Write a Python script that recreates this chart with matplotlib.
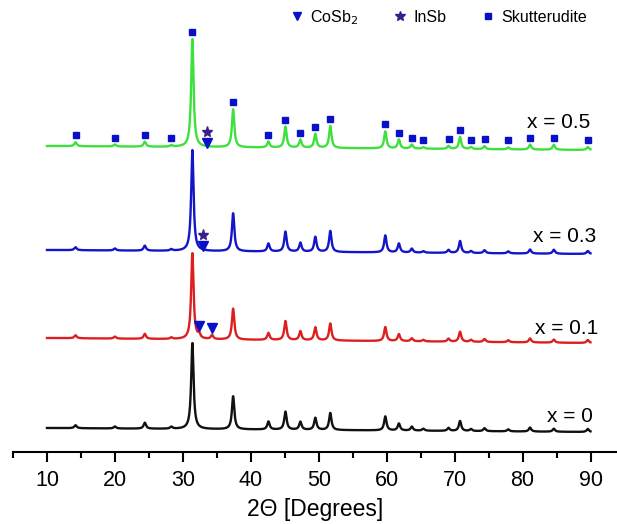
import matplotlib.pyplot as plt
import numpy as np
from matplotlib.lines import Line2D

plt.rcParams['font.family'] = ['Liberation Sans', 'DejaVu Sans']

# skutterudite reflections (2theta, degrees)
skut_pos = [14.2, 20.0, 24.4, 28.3, 31.4, 37.4, 42.6, 45.1, 47.3, 49.5, 51.7,
            59.8, 61.8, 63.7, 65.4, 69.1, 70.8, 72.4, 74.4, 77.9, 81.1, 84.6, 89.6]

# peak intensities (a.u.) for each composition
h_x0  = [3, 2, 6, 2, 86, 33, 8, 18, 8, 12, 17, 14, 7, 4, 2, 3, 10, 2, 3, 2, 4, 3, 3]
h_x01 = [3, 2, 5, 1.5, 86, 31, 7, 19, 9, 13, 17, 14, 7, 3, 1.5, 3, 10, 2, 3, 2, 4, 3, 3]
h_x03 = [3, 2, 5, 1.5, 101, 38, 8, 20, 9, 15, 21, 17, 9, 4, 1.5, 3, 12, 2, 3, 2, 4, 4, 3]
h_x05 = [4, 2, 5, 1.5, 108, 38, 6, 21, 8, 14, 22, 17, 9, 4, 1.5, 3, 12, 2, 3, 2, 5, 5, 3]

# secondary phase reflections seen in x = 0.1
cosb2_pos_x01 = [32.4, 34.3]
cosb2_h_x01 = [4, 4]

# background level at 10 and 90 degrees (offset stacked)
bg_x0  = [24, 20]
bg_x01 = [114, 109]
bg_x03 = [202, 198]
bg_x05 = [306, 302]

# phase markers on the upper patterns
cosb2_mark = {'x': [32.4, 34.3, 32.9, 33.5], 'y': [126, 124, 206, 309]}
insb_mark = {'x': [32.9, 33.5], 'y': [217, 320.5]}

labels = ['x = 0', 'x = 0.1', 'x = 0.3', 'x = 0.5']
label_xy = [(90.3, 35), (91.2, 123), (90.9, 215), (90.0, 329)]
colors = ['#111111', '#dd1f1f', '#1414c8', '#3ee03e']


def pattern(tt, bg, pos, heights, hw=0.21):
  y = bg[0] + (bg[1] - bg[0]) * (tt - tt[0]) / (tt[-1] - tt[0])
  for p, h in zip(pos, heights):
    y = y + h * hw**2 / ((tt - p)**2 + hw**2)
  return y


tt = np.linspace(10, 90, 4000)
curves = [
  pattern(tt, bg_x0, skut_pos, h_x0),
  pattern(tt, bg_x01, skut_pos + cosb2_pos_x01, h_x01 + cosb2_h_x01),
  pattern(tt, bg_x03, skut_pos, h_x03),
  pattern(tt, bg_x05, skut_pos, h_x05),
]

fig = plt.figure(figsize=(6.17, 5.24), dpi=100)
ax = fig.add_axes([13 / 617, 72 / 524, 604 / 617, 452 / 524])

for y, c in zip(curves, colors):
  ax.plot(tt, y, color=c, lw=1.7)

for (lx, ly), lab in zip(label_xy, labels):
  ax.text(lx, ly, lab, ha='right', va='center', fontsize=15)

# skutterudite squares above the x = 0.5 peaks
sq_y = [bg_x05[0] + (bg_x05[1] - bg_x05[0]) * (p - 10) / 80 + h + 7
        for p, h in zip(skut_pos, h_x05)]
mark_blue = '#0a10c8'
ax.plot(skut_pos, sq_y, ls='none', marker='s', ms=5, color=mark_blue)
ax.plot(cosb2_mark['x'], cosb2_mark['y'], ls='none', marker='v', ms=6.5, color=mark_blue)
ax.plot(insb_mark['x'], insb_mark['y'], ls='none', marker='*', ms=8, color='#3a1f8c')

handles = [
  Line2D([], [], ls='none', marker='v', ms=6, color=mark_blue),
  Line2D([], [], ls='none', marker='*', ms=7, color='#3a1f8c'),
  Line2D([], [], ls='none', marker='s', ms=4.5, color=mark_blue),
]
fig.legend(handles, ['CoSb$_2$', 'InSb', 'Skutterudite'], ncol=3, frameon=False,
           loc='upper right', bbox_to_anchor=(0.975, 1.012), fontsize=11.5,
           handlelength=1.0, handletextpad=0.35, columnspacing=2.1)

ax.set_xlim(5, 93.9)
ax.set_ylim(0, 452)
for s in ['top', 'left', 'right']:
  ax.spines[s].set_visible(False)
ax.spines['bottom'].set_linewidth(1.5)
ax.set_yticks([])
ax.set_xticks(np.arange(10, 91, 10))
ax.set_xticks(np.arange(5, 91, 10), minor=True)
ax.tick_params(axis='x', which='major', direction='out', length=7, width=1.5,
               labelsize=15.5, pad=6)
ax.tick_params(axis='x', which='minor', direction='out', length=4, width=1.5)
ax.set_xlabel('2\u0398 [Degrees]', fontsize=16.5, labelpad=5)

fig.savefig('out.png', dpi=100)
